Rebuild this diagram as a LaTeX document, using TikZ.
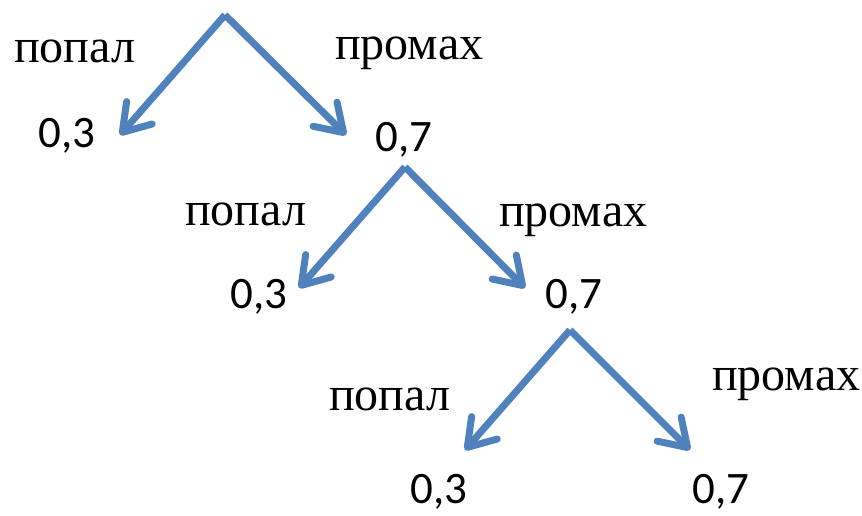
\documentclass[tikz,border=0pt]{standalone}
\usepackage{fontspec}
\setmainfont{Liberation Serif}
\newfontfamily\numfont{Carlito}
\usetikzlibrary{arrows.meta}
\definecolor{arrblue}{RGB}{79,129,189}
\begin{document}
\begin{tikzpicture}[x=1pt,y=-1pt,
  branch/.style={draw=arrblue, line width=7pt,
    -{Straight Barb[length=26pt,width=34pt,line cap=round,line join=round]}},
  lbl/.style={anchor=base west, inner sep=0pt, font=\fontsize{48}{48}\selectfont},
  prob/.style={anchor=base west, inner sep=0pt, font=\numfont\fontsize{45}{45}\selectfont}]
\useasboundingbox (0,0) rectangle (862,516);
% level 1
\coordinate (a1) at (225,15);
\coordinate (l1) at (120,135);
\coordinate (r1) at (346,135);
\node[lbl] (hit1) at (14,63) {попал};
\node[lbl] (miss1) at (335,60) {промах};
\node[prob] (p13) at (38,148) {0,3};
\node[prob] (p17) at (375,152) {0,7};
\draw[branch] (a1) -- (l1);
\draw[branch] (a1) -- (r1);
% level 2
\coordinate (a2) at (405,167);
\coordinate (l2) at (299,288);
\coordinate (r2) at (525,288);
\node[lbl] (hit2) at (185,225) {попал};
\node[lbl] (miss2) at (499,226) {промах};
\node[prob] (p23) at (230,308) {0,3};
\node[prob] (p27) at (545,308) {0,7};
\draw[branch] (a2) -- (l2);
\draw[branch] (a2) -- (r2);
% level 3
\coordinate (a3) at (570,330);
\coordinate (l3) at (465,450);
\coordinate (r3) at (690,450);
\node[lbl] (hit3) at (329,410) {попал};
\node[lbl] (miss3) at (712,390) {промах};
\node[prob] (p33) at (410,503) {0,3};
\node[prob] (p37) at (692,503) {0,7};
\draw[branch] (a3) -- (l3);
\draw[branch] (a3) -- (r3);
\end{tikzpicture}
\end{document}
